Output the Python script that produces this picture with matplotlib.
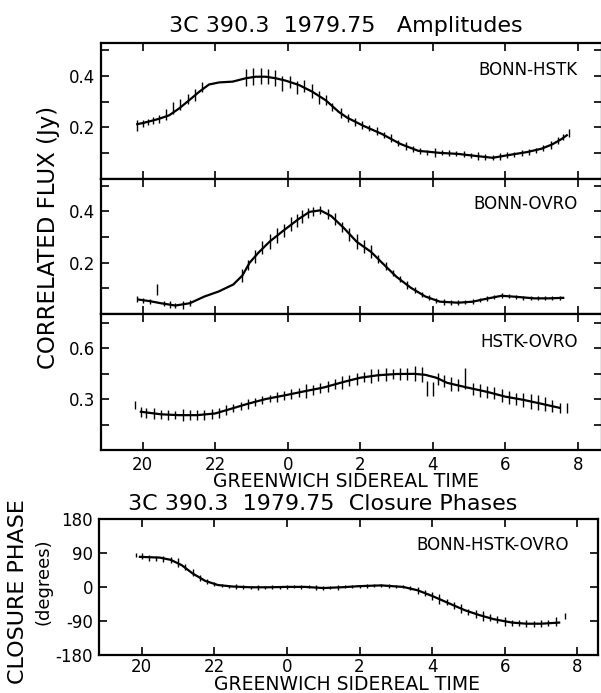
import matplotlib
matplotlib.use("Agg")
import matplotlib.pyplot as plt

# hours after 0h are written as 24+h so the axis runs 20 -> 8 continuously
hour_ticks = [20, 22, 24, 26, 28, 30, 32]
hour_labels = ['20', '22', '0', '2', '4', '6', '8']

# ---- BONN-HSTK amplitude (Jy): model curve + measurements
c1_t = [19.85, 20.0, 20.28, 20.46, 20.73, 21.0, 21.28, 21.56, 21.83, 22.11, 22.48, 22.84, 23.12,
        23.39, 23.67, 23.94, 24.31, 24.68, 25.05, 25.41, 25.64, 26.08, 26.6, 27.1, 27.6, 28.2,
        28.7, 29.2, 29.65, 30.2, 30.6, 31.0, 31.3, 31.55, 31.7]
c1_v = [0.213, 0.217, 0.227, 0.234, 0.247, 0.273, 0.305, 0.338, 0.366, 0.374, 0.377, 0.390, 0.396,
        0.396, 0.390, 0.381, 0.364, 0.338, 0.305, 0.260, 0.238, 0.207, 0.175, 0.137, 0.110, 0.102,
        0.098, 0.090, 0.083, 0.096, 0.105, 0.118, 0.135, 0.155, 0.170]
d1_t = [19.83, 20.0, 20.14, 20.28, 20.44, 20.64, 20.84, 21.04, 21.24, 21.45, 21.63, 22.84, 23.05,
        23.26, 23.45, 23.64, 23.85, 24.06, 24.27, 24.45, 24.68, 24.86, 25.05, 25.23, 25.46, 25.65,
        25.85, 26.05, 26.25, 26.45, 26.65, 26.85, 27.05, 27.25, 27.45, 27.65, 27.85, 28.05, 28.25,
        28.45, 28.65, 28.85, 29.05, 29.25, 29.45, 29.65, 29.85, 30.05, 30.25, 30.45, 30.65, 30.85,
        31.05, 31.25, 31.45, 31.6, 31.75]
d1_v = [0.207, 0.215, 0.222, 0.227, 0.234, 0.249, 0.275, 0.290, 0.310, 0.325, 0.357, 0.392, 0.397,
        0.400, 0.397, 0.392, 0.370, 0.375, 0.355, 0.360, 0.340, 0.315, 0.305, 0.280, 0.255, 0.236,
        0.222, 0.209, 0.197, 0.186, 0.172, 0.158, 0.141, 0.128, 0.117, 0.109, 0.105, 0.103, 0.102,
        0.101, 0.099, 0.097, 0.093, 0.089, 0.086, 0.083, 0.088, 0.093, 0.097, 0.101, 0.105, 0.110,
        0.120, 0.132, 0.150, 0.163, 0.180]
d1_e = [0.022, 0.015, 0.012, 0.012, 0.015, 0.021, 0.023, 0.021, 0.021, 0.023, 0.020, 0.032, 0.032,
        0.031, 0.030, 0.030, 0.030, 0.023, 0.026, 0.023, 0.026, 0.026, 0.020, 0.016, 0.020, 0.015,
        0.015, 0.015, 0.012, 0.015, 0.012, 0.015, 0.012, 0.015, 0.012, 0.010, 0.010, 0.018, 0.010,
        0.012, 0.010, 0.012, 0.010, 0.015, 0.012, 0.010, 0.012, 0.012, 0.010, 0.012, 0.012, 0.010,
        0.012, 0.015, 0.015, 0.012, 0.015]

# ---- BONN-OVRO amplitude
c2_t = [19.9, 20.2, 20.5, 20.9, 21.3, 21.7, 22.1, 22.5, 22.75, 22.95, 23.2, 23.5, 23.9, 24.3, 24.6,
        24.9, 25.2, 25.55, 25.9, 26.3, 26.6, 27.0, 27.4, 27.8, 28.2, 28.7, 29.1, 29.5, 29.9, 30.3,
        30.8, 31.2, 31.6]
c2_v = [0.056, 0.050, 0.042, 0.033, 0.042, 0.068, 0.088, 0.115, 0.150, 0.200, 0.240, 0.282, 0.327,
        0.370, 0.398, 0.404, 0.382, 0.335, 0.282, 0.242, 0.200, 0.145, 0.102, 0.068, 0.048, 0.044,
        0.048, 0.060, 0.071, 0.067, 0.061, 0.061, 0.063]
d2_t = [19.85, 20.0, 20.2, 20.4, 20.6, 20.75, 20.9, 21.1, 21.3, 22.75, 22.9, 23.1, 23.3, 23.5, 23.7,
        23.9, 24.1, 24.25, 24.4, 24.55, 24.7, 24.9, 25.1, 25.3, 25.5, 25.7, 25.9, 26.1, 26.3, 26.5,
        26.7, 26.9, 27.1, 27.3, 27.5, 27.7, 27.9, 28.1, 28.3, 28.5, 28.7, 28.9, 29.1, 29.3, 29.5,
        29.7, 29.9, 30.1, 30.3, 30.5, 30.7, 30.9, 31.1, 31.3, 31.5]
d2_v = [0.057, 0.054, 0.050, 0.095, 0.040, 0.037, 0.033, 0.035, 0.042, 0.150, 0.190, 0.225, 0.260,
        0.282, 0.305, 0.327, 0.350, 0.366, 0.380, 0.393, 0.400, 0.404, 0.390, 0.370, 0.340, 0.310,
        0.282, 0.262, 0.242, 0.215, 0.187, 0.160, 0.135, 0.112, 0.093, 0.077, 0.064, 0.052, 0.047,
        0.045, 0.044, 0.046, 0.048, 0.054, 0.060, 0.066, 0.071, 0.070, 0.067, 0.064, 0.062, 0.061,
        0.061, 0.062, 0.063]
d2_e = [0.012, 0.010, 0.010, 0.022, 0.010, 0.012, 0.010, 0.015, 0.012, 0.025, 0.020, 0.025, 0.025,
        0.028, 0.030, 0.025, 0.028, 0.025, 0.025, 0.020, 0.018, 0.015, 0.020, 0.025, 0.020, 0.025,
        0.030, 0.025, 0.025, 0.015, 0.015, 0.012, 0.012, 0.015, 0.012, 0.010, 0.010, 0.010, 0.010,
        0.008, 0.010, 0.008, 0.010, 0.008, 0.010, 0.008, 0.010, 0.008, 0.008, 0.008, 0.008, 0.008,
        0.008, 0.008, 0.008]

# ---- HSTK-OVRO amplitude
c3_t = [19.95, 20.5, 21.0, 21.5, 22.0, 22.4, 22.9, 23.4, 24.0, 24.5, 25.0, 25.5, 26.0, 26.5, 27.0,
        27.5, 27.8, 28.1, 28.4, 28.9, 29.5, 30.0, 30.5, 31.0, 31.5]
c3_v = [0.225, 0.210, 0.205, 0.205, 0.215, 0.240, 0.272, 0.300, 0.325, 0.347, 0.368, 0.398, 0.425,
        0.440, 0.447, 0.448, 0.442, 0.425, 0.395, 0.370, 0.342, 0.314, 0.295, 0.272, 0.248]
d3_t = [19.8, 19.95, 20.1, 20.3, 20.5, 20.7, 20.9, 21.1, 21.3, 21.5, 21.7, 21.9, 22.1, 22.3, 22.5,
        22.7, 22.9, 23.1, 23.3, 23.5, 23.7, 23.9, 24.1, 24.3, 24.5, 24.7, 24.9, 25.1, 25.3, 25.5,
        25.7, 25.9, 26.1, 26.3, 26.5, 26.7, 26.9, 27.1, 27.3, 27.5, 27.7, 27.85, 28.0, 28.15, 28.3,
        28.5, 28.7, 28.9, 29.1, 29.3, 29.5, 29.7, 29.9, 30.1, 30.3, 30.5, 30.7, 30.9, 31.1, 31.3,
        31.5, 31.7]
d3_v = [0.265, 0.225, 0.220, 0.215, 0.210, 0.208, 0.206, 0.205, 0.205, 0.205, 0.208, 0.212, 0.220,
        0.233, 0.247, 0.260, 0.272, 0.283, 0.295, 0.304, 0.312, 0.320, 0.329, 0.338, 0.347, 0.355,
        0.364, 0.373, 0.386, 0.398, 0.409, 0.420, 0.428, 0.434, 0.440, 0.443, 0.446, 0.447, 0.448,
        0.448, 0.444, 0.360, 0.360, 0.420, 0.405, 0.390, 0.380, 0.420, 0.360, 0.350, 0.342, 0.333,
        0.320, 0.310, 0.302, 0.295, 0.287, 0.278, 0.270, 0.260, 0.248, 0.245]
d3_e = [0.025, 0.030, 0.030, 0.030, 0.025, 0.030, 0.025, 0.035, 0.030, 0.030, 0.030, 0.030, 0.030,
        0.030, 0.025, 0.025, 0.030, 0.025, 0.025, 0.020, 0.030, 0.025, 0.030, 0.025, 0.040, 0.030,
        0.030, 0.030, 0.030, 0.040, 0.030, 0.035, 0.030, 0.040, 0.035, 0.040, 0.030, 0.035, 0.035,
        0.045, 0.045, 0.045, 0.040, 0.035, 0.035, 0.040, 0.035, 0.060, 0.035, 0.040, 0.035, 0.035,
        0.040, 0.040, 0.035, 0.040, 0.045, 0.045, 0.040, 0.035, 0.030, 0.030]

# ---- closure phase BONN-HSTK-OVRO (degrees)
c4_t = [19.95, 20.5, 20.8, 21.1, 21.4, 21.75, 22.1, 22.5, 23.0, 23.5, 24.0, 24.5, 25.0, 25.5, 26.0,
        26.6, 27.2, 27.6, 28.0, 28.4, 28.9, 29.3, 29.7, 30.2, 30.6, 31.0, 31.5]
c4_v = [80, 78, 72, 58, 36, 16, 5, 1, -1, -1, 0, 0, -3, -1, 2, 4, 0, -9, -24, -41, -62, -75, -86,
        -95, -98, -98, -95]
d4_t = [19.85, 20.0, 20.2, 20.4, 20.6, 20.8, 21.0, 21.2, 21.4, 21.6, 21.8, 22.0, 22.2, 22.4, 22.6,
        22.8, 23.0, 23.2, 23.4, 23.6, 23.8, 24.0, 24.2, 24.4, 24.6, 24.8, 25.0, 25.2, 25.4, 25.6,
        25.8, 26.0, 26.2, 26.4, 26.6, 26.8, 27.0, 27.2, 27.4, 27.6, 27.8, 28.0, 28.2, 28.4, 28.6,
        28.8, 29.0, 29.2, 29.4, 29.6, 29.8, 30.0, 30.2, 30.4, 30.6, 30.8, 31.0, 31.2, 31.4, 31.65]
d4_v = [85, 82, 78, 76, 75, 72, 66, 52, 38, 25, 14, 8, 4, 2, 1, 0, -1, -1, -1, -1, -1, 0, 0, 0, 0,
        -1, -3, -2, -1, 0, 1, 2, 3, 4, 4, 3, 1, 0, -3, -9, -16, -24, -32, -41, -50, -58, -66, -72,
        -77, -82, -87, -91, -95, -97, -98, -98, -98, -97, -93, -78]
d4_e = [6, 8, 8, 6, 8, 8, 12, 8, 10, 8, 6, 6, 5, 4, 6, 5, 4, 6, 4, 5, 4, 6, 4, 5, 4, 6, 5, 4, 6, 4,
        5, 4, 6, 5, 4, 6, 5, 4, 6, 10, 8, 10, 14, 8, 10, 12, 8, 10, 14, 10, 10, 12, 8, 8, 10, 8,
        10, 8, 12, 8]

W, H = 601.0, 693.0


def box(left, top, right, bottom):
    return [left / W, 1 - bottom / H, (right - left) / W, (bottom - top) / H]


fig = plt.figure(figsize=(6.01, 6.93), dpi=100)


def setup(ax, xlim, ylim, yticks, ylabels, show_x):
    ax.set_xlim(*xlim)
    ax.set_ylim(*ylim)
    ax.set_xticks(hour_ticks)
    ax.set_xticklabels(hour_labels if show_x else [])
    ax.set_yticks(yticks)
    ax.set_yticklabels(ylabels)
    ax.tick_params(direction='in', top=True, right=True, length=6, width=1.2,
                   labelsize=12, pad=4)
    for s in ax.spines.values():
        s.set_linewidth(1.6)


amp_xlim = (18.85, 32.67)
panels = [
    (box(101, 43.3, 602, 179.3), c1_t, c1_v, d1_t, d1_v, d1_e, "BONN-HSTK", 0.804,
     (0, 0.525), [0.1, 0.2, 0.3, 0.4, 0.5], ['', '0.2', '', '0.4', ''], False),
    (box(101, 179.3, 602, 314), c2_t, c2_v, d2_t, d2_v, d2_e, "BONN-OVRO", 0.817,
     (0, 0.525), [0.1, 0.2, 0.3, 0.4, 0.5], ['', '0.2', '', '0.4', ''], False),
    (box(101, 314, 602, 450), c3_t, c3_v, d3_t, d3_v, d3_e, "HSTK-OVRO", 0.792,
     (0, 0.80), [0.15, 0.3, 0.45, 0.6, 0.75], ['', '0.3', '', '0.6', ''], True),
]

for rect, ct, cv, dt, dv, de, name, ly, ylim, yt, yl, showx in panels:
    ax = fig.add_axes(rect)
    ax.errorbar(dt, dv, yerr=de, fmt='none', ecolor='black', elinewidth=1.0, capsize=0)
    ax.plot(ct, cv, color='black', lw=1.6)
    setup(ax, amp_xlim, ylim, yt, yl, showx)
    ax.text(0.952, ly, name, transform=ax.transAxes, ha='right', va='center', fontsize=12)

# closure phase panel
axc = fig.add_axes(box(98.5, 519.3, 598, 654.5))
axc.errorbar(d4_t, d4_v, yerr=d4_e, fmt='none', ecolor='black', elinewidth=1.0, capsize=0)
axc.plot(c4_t, c4_v, color='black', lw=1.6)
setup(axc, (18.81, 32.57), (-180, 180), [-180, -90, 0, 90, 180],
      ['-180', '-90', '0', '90', '180'], True)
axc.tick_params(axis='x', pad=2.5)
axc.text(0.942, 0.81, "BONN-HSTK-OVRO", transform=axc.transAxes, ha='right', va='center',
         fontsize=12)

# titles and axis labels
fig.text(346 / W, 1 - 32 / H, "3C 390.3  1979.75   Amplitudes", ha='center', va='baseline',
         fontsize=16)
fig.text(322.5 / W, 1 - 510 / H, "3C 390.3  1979.75  Closure Phases", ha='center',
         va='baseline', fontsize=16)
fig.text(346 / W, 1 - 481.7 / H, "GREENWICH SIDEREAL TIME", ha='center', va='center',
         fontsize=13.5)
fig.text(346.5 / W, 1 - 689.5 / H, "GREENWICH SIDEREAL TIME", ha='center', va='baseline',
         fontsize=13.5)
fig.text(48.8 / W, 1 - 237.5 / H, "CORRELATED FLUX (Jy)", rotation=90, ha='center',
         va='center', fontsize=16.5)
fig.text(18.3 / W, 1 - 592 / H, "CLOSURE PHASE", rotation=90, ha='center', va='center',
         fontsize=16)
fig.text(43.3 / W, 1 - 581.5 / H, "(degrees)", rotation=90, ha='center', va='center',
         fontsize=13)

fig.savefig("out.png", dpi=100)
